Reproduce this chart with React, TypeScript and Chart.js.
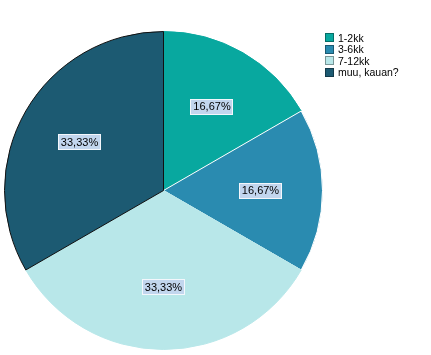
import React, { useEffect, useRef } from "react";
import { Chart, registerables } from "chart.js";

Chart.register(...registerables);

const categories = ["1-2kk", "3-6kk", "7-12kk", "muu, kauan?"];
const values = [16.67, 16.67, 33.33, 33.33];
const percentLabels = ["16,67%", "16,67%", "33,33%", "33,33%"];
const colors = ["#08a89f", "#2a8bb0", "#b8e7e9", "#1c5a72"];
const borderColors = ["#08a89f", "#ffffff", "#b8e7e9", "#111111"];

const labelPlugin = {
  id: "pctLabels",
  afterDatasetsDraw(chart: any) {
    const ctx = chart.ctx;
    const meta = chart.getDatasetMeta(0);
    ctx.save();
    ctx.font = "11px 'Liberation Sans', Arial, sans-serif";
    ctx.textAlign = "center";
    ctx.textBaseline = "middle";
    meta.data.forEach((arc: any, i: number) => {
      const p = arc.getProps(["x", "y", "startAngle", "endAngle", "outerRadius"], true);
      const mid = (p.startAngle + p.endAngle) / 2;
      const r = p.outerRadius * 0.61;
      const x = p.x + Math.cos(mid) * r;
      const y = p.y + Math.sin(mid) * r;
      const t = percentLabels[i];
      const w = ctx.measureText(t).width + 6;
      const h = 16;
      ctx.fillStyle = "#c2d6ee";
      ctx.fillRect(Math.round(x - w / 2), Math.round(y - h / 2), Math.round(w), h);
      ctx.strokeStyle = "rgba(255,255,255,0.8)";
      ctx.lineWidth = 1;
      ctx.strokeRect(Math.round(x - w / 2) + 0.5, Math.round(y - h / 2) + 0.5, Math.round(w) - 1, h - 1);
      ctx.fillStyle = "#000";
      ctx.fillText(t, x, y + 0.5);
    });
    ctx.restore();
  },
};

export default function App() {
  const ref = useRef<HTMLCanvasElement>(null);
  useEffect(() => {
    const chart = new Chart(ref.current!, {
      type: "pie",
      data: {
        labels: categories,
        datasets: [
          {
            data: values,
            backgroundColor: colors,
            borderColor: borderColors,
            borderWidth: 1,
          },
        ],
      },
      options: {
        animation: false,
        responsive: false,
        maintainAspectRatio: false,
        layout: { padding: { left: 4, right: 108, top: 31, bottom: 5 } },
        plugins: {
          legend: { display: false },
          tooltip: { enabled: false },
        },
      },
      plugins: [labelPlugin],
    });
    return () => chart.destroy();
  }, []);

  return (
    <div style={{ position: "absolute", left: 0, top: 0, width: 431, height: 355, background: "#fff" }}>
      <canvas ref={ref} width={431} height={355} style={{ position: "absolute", left: 0, top: 0 }} />
      <div
        style={{
          position: "absolute",
          left: 325,
          top: 32,
          fontFamily: "'Liberation Sans', Arial, sans-serif",
          fontSize: 10.5,
          color: "#000",
        }}
      >
        {categories.map((c, i) => (
          <div key={c} style={{ display: "flex", alignItems: "center", height: 11.5 }}>
            <span
              style={{
                display: "inline-block",
                width: 7,
                height: 7,
                background: colors[i],
                border: "1px solid rgba(0,0,0,0.35)",
                marginRight: 4,
              }}
            />
            <span>{c}</span>
          </div>
        ))}
      </div>
    </div>
  );
}
